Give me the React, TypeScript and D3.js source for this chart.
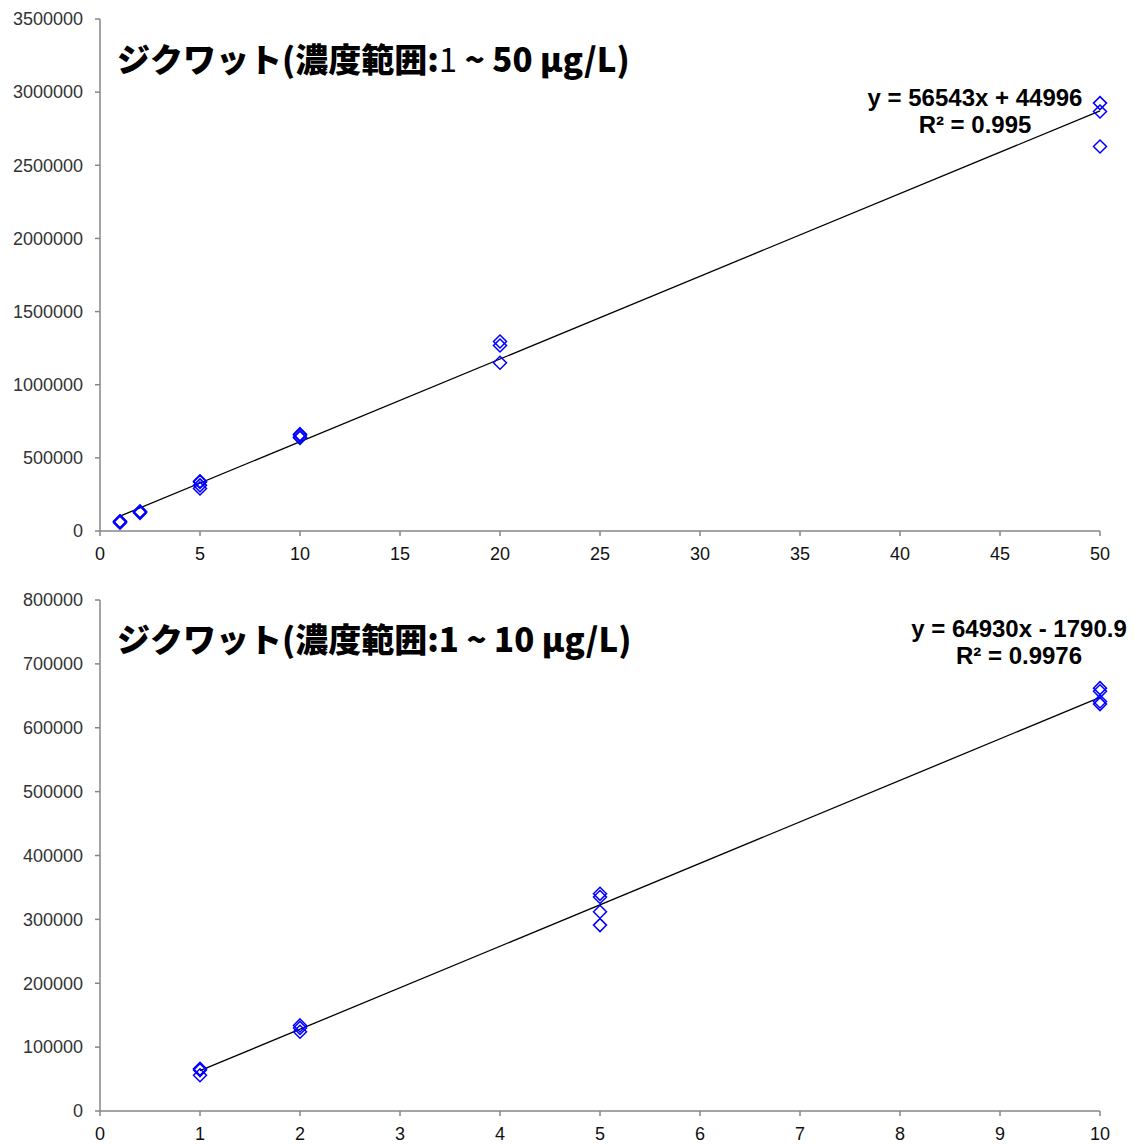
import React from "react";
import * as d3 from "d3";

// ---- data ----
const concTop = [1, 1, 1, 2, 2, 2, 5, 5, 5, 5, 10, 10, 10, 10, 20, 20, 20, 50, 50, 50];
const areaTop = [66000, 64000, 56000, 134000, 130000, 124000, 340000, 335000, 312000, 291000, 662000, 657000, 641000, 637000, 1295000, 1268000, 1150000, 2925000, 2868000, 2628000];
const concBottom = [1, 1, 1, 2, 2, 2, 5, 5, 5, 5, 10, 10, 10, 10];
const areaBottom = [66000, 64000, 56000, 134000, 130000, 124000, 340000, 335000, 312000, 291000, 662000, 657000, 641000, 637000];
const trendTop = { slope: 56543, intercept: 44996 };
const trendBottom = { slope: 64930, intercept: -1790.9 };
const yTicksTop = [0, 500000, 1000000, 1500000, 2000000, 2500000, 3000000, 3500000];
const xTicksTop = [0, 5, 10, 15, 20, 25, 30, 35, 40, 45, 50];
const yTicksBottom = [0, 100000, 200000, 300000, 400000, 500000, 600000, 700000, 800000];
const xTicksBottom = [0, 1, 2, 3, 4, 5, 6, 7, 8, 9, 10];
const eqTop = ["y = 56543x + 44996", "R² = 0.995"];
const eqBottom = ["y = 64930x - 1790.9", "R² = 0.9976"];

const AXIS = "#868686";
const BLUE = "#0000FF";
const TICKFONT = "'Liberation Sans', Arial, sans-serif";
const CJK = "'Noto Sans CJK JP', sans-serif";

type PanelProps = {
  xs: number[];
  ys: number[];
  xDomain: [number, number];
  yDomain: [number, number];
  top: number;
  bottom: number;
  xTicks: number[];
  yTicks: number[];
  trend: { slope: number; intercept: number };
  eq: string[];
  eqX: number;
  eqY: number;
  title: React.ReactNode;
  titleY: number;
};

function Panel(p: PanelProps) {
  const x = d3.scaleLinear().domain(p.xDomain).range([100, 1100]);
  const y = d3.scaleLinear().domain(p.yDomain).range([p.bottom, p.top]);
  const xMin = d3.min(p.xs)!;
  const xMax = d3.max(p.xs)!;
  const line = d3.line<number>()
    .x((d) => x(d))
    .y((d) => y(p.trend.slope * d + p.trend.intercept));
  const r = 6.5;
  return (
    <g>
      <line x1={100} x2={100} y1={p.top} y2={p.bottom} stroke={AXIS} strokeWidth={1.5} />
      <line x1={100} x2={1100} y1={p.bottom} y2={p.bottom} stroke={AXIS} strokeWidth={1.5} />
      {p.yTicks.map((t) => (
        <g key={"y" + t}>
          <line x1={95} x2={100} y1={y(t)} y2={y(t)} stroke={AXIS} strokeWidth={1.5} />
          <text x={83} y={y(t)} dy="0.35em" textAnchor="end" fontFamily={TICKFONT} fontSize={18} fill="#333">
            {t}
          </text>
        </g>
      ))}
      {p.xTicks.map((t) => (
        <g key={"x" + t}>
          <line x1={x(t)} x2={x(t)} y1={p.bottom} y2={p.bottom + 5} stroke={AXIS} strokeWidth={1.5} />
          <text x={x(t)} y={p.bottom + 29} textAnchor="middle" fontFamily={TICKFONT} fontSize={18} fill="#111">
            {t}
          </text>
        </g>
      ))}
      <path d={line([xMin, xMax]) || ""} stroke="#000" strokeWidth={1.3} fill="none" />
      {p.xs.map((xv, i) => {
        const cx = x(xv);
        const cy = y(p.ys[i]);
        return (
          <path
            key={i}
            d={`M${cx},${cy - r}L${cx + r},${cy}L${cx},${cy + r}L${cx - r},${cy}Z`}
            fill="none"
            stroke={BLUE}
            strokeWidth={1.5}
          />
        );
      })}
      {p.eq.map((s, i) => (
        <text key={i} x={p.eqX} y={p.eqY + i * 27} textAnchor="middle" fontFamily={TICKFONT} fontWeight="bold" fontSize={24} fill="#000">
          {s}
        </text>
      ))}
      <text x={117} y={p.titleY} fontFamily={CJK} fontWeight={900} fontSize={33} fill="#000">
        {p.title}
      </text>
    </g>
  );
}

export default function App() {
  return (
    <svg width={1134} height={1144} style={{ position: "absolute", left: 0, top: 0, background: "#fff" }}>
      <rect width={1134} height={1144} fill="#fff" />
      <Panel
        xs={concTop}
        ys={areaTop}
        xDomain={[0, 50]}
        yDomain={[0, 3500000]}
        top={19}
        bottom={531}
        xTicks={xTicksTop}
        yTicks={yTicksTop}
        trend={trendTop}
        eq={eqTop}
        eqX={975}
        eqY={106}
        titleY={72}
        title={
          <>
            <tspan>ジクワット(濃度範囲:</tspan>
            <tspan fontWeight="normal">1</tspan>
            <tspan> ~ 50 µg/L)</tspan>
          </>
        }
      />
      <Panel
        xs={concBottom}
        ys={areaBottom}
        xDomain={[0, 10]}
        yDomain={[0, 800000]}
        top={600}
        bottom={1111}
        xTicks={xTicksBottom}
        yTicks={yTicksBottom}
        trend={trendBottom}
        eq={eqBottom}
        eqX={1019}
        eqY={637}
        titleY={652}
        title={<tspan>ジクワット(濃度範囲:1 ~ 10 µg/L)</tspan>}
      />
    </svg>
  );
}
